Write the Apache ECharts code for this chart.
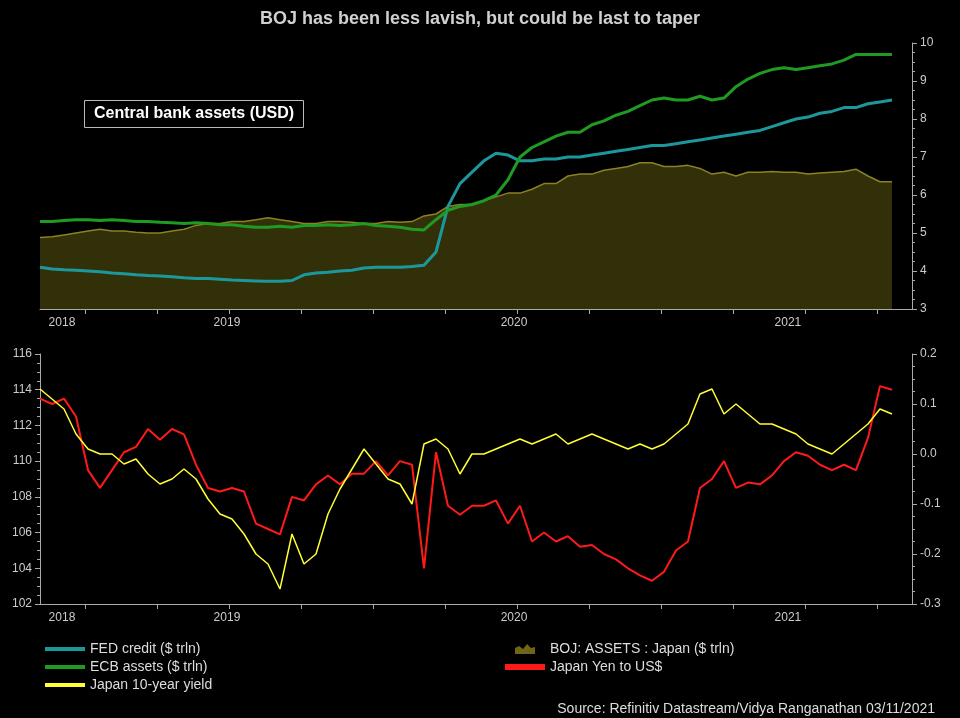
<!DOCTYPE html>
<html><head><meta charset="utf-8">
<script src="https://cdn.jsdelivr.net/npm/echarts@6/dist/echarts.min.js"></script>
<style>html,body{margin:0;background:#000}#c{width:960px;height:718px}</style></head>
<body><div id="c"></div>
<script>
const fedCredit=[4.1,4.05,4.03,4.02,4.0,3.98,3.95,3.93,3.9,3.88,3.87,3.85,3.82,3.8,3.8,3.78,3.76,3.75,3.74,3.73,3.73,3.75,3.9,3.95,3.97,4.0,4.02,4.08,4.1,4.1,4.1,4.12,4.15,4.5,5.7,6.3,6.6,6.9,7.1,7.05,6.9,6.9,6.95,6.95,7.0,7.0,7.05,7.1,7.15,7.2,7.25,7.3,7.3,7.35,7.4,7.45,7.5,7.55,7.6,7.65,7.7,7.8,7.9,8.0,8.05,8.15,8.2,8.3,8.3,8.4,8.45,8.5];
const ecbAssets=[5.3,5.3,5.33,5.35,5.35,5.33,5.35,5.33,5.3,5.3,5.28,5.27,5.25,5.27,5.25,5.22,5.22,5.18,5.15,5.15,5.18,5.15,5.2,5.2,5.22,5.2,5.22,5.25,5.2,5.18,5.15,5.1,5.08,5.35,5.6,5.7,5.75,5.85,6.0,6.4,7.0,7.25,7.4,7.55,7.65,7.65,7.85,7.95,8.1,8.2,8.35,8.5,8.55,8.5,8.5,8.6,8.5,8.55,8.85,9.05,9.2,9.3,9.35,9.3,9.35,9.4,9.45,9.55,9.7,9.7,9.7,9.7];
const bojAssets=[4.88,4.9,4.95,5.0,5.05,5.1,5.05,5.05,5.02,5.0,5.0,5.05,5.1,5.2,5.25,5.25,5.3,5.3,5.35,5.4,5.35,5.3,5.25,5.25,5.3,5.3,5.28,5.25,5.25,5.3,5.28,5.3,5.45,5.5,5.7,5.75,5.75,5.85,5.95,6.05,6.05,6.15,6.3,6.3,6.5,6.55,6.55,6.65,6.7,6.75,6.85,6.85,6.75,6.75,6.78,6.7,6.55,6.6,6.5,6.6,6.6,6.62,6.6,6.6,6.55,6.58,6.6,6.62,6.68,6.5,6.35,6.35];
const yenUsd=[113.5,113.2,113.5,112.5,109.5,108.5,109.5,110.5,110.8,111.8,111.2,111.8,111.5,109.8,108.5,108.3,108.5,108.3,106.5,106.2,105.9,108.0,107.8,108.7,109.2,108.7,109.3,109.3,110.0,109.2,110.0,109.8,104.0,110.5,107.5,107.0,107.5,107.5,107.8,106.5,107.5,105.5,106.0,105.5,105.8,105.2,105.3,104.8,104.5,104.0,103.6,103.3,103.8,105.0,105.5,108.5,109.0,110.0,108.5,108.8,108.7,109.2,110.0,110.5,110.3,109.8,109.5,109.8,109.5,111.3,114.2,114.0];
const jgb10y=[0.13,0.11,0.09,0.04,0.01,0.0,0.0,-0.02,-0.01,-0.04,-0.06,-0.05,-0.03,-0.05,-0.09,-0.12,-0.13,-0.16,-0.2,-0.22,-0.27,-0.16,-0.22,-0.2,-0.12,-0.07,-0.03,0.01,-0.02,-0.05,-0.06,-0.1,0.02,0.03,0.01,-0.04,0.0,0.0,0.01,0.02,0.03,0.02,0.03,0.04,0.02,0.03,0.04,0.03,0.02,0.01,0.02,0.01,0.02,0.04,0.06,0.12,0.13,0.08,0.1,0.08,0.06,0.06,0.05,0.04,0.02,0.01,0.0,0.02,0.04,0.06,0.09,0.08];
const tickPos=[3.75,9.75,15.75,21.75,27.75,33.75,39.75,45.75,51.75,57.75,63.75,69.75];
const yearLabels=['2018','2019','2020','2021'];
const yearPos=[1.83,15.58,39.5,62.33];

const pts=a=>a.map((v,i)=>[i,v]);
const grey='#aaaaaa';
function xAx(gi){return {type:'value',gridIndex:gi,min:0,max:72.67,
  axisLine:{show:true,onZero:false,lineStyle:{color:grey}},
  axisTick:{show:true,customValues:tickPos,length:5,lineStyle:{color:grey}},
  axisLabel:{show:true,customValues:yearPos,color:'#ccc',fontSize:12,fontFamily:'Arial',
    formatter:v=>{const k=yearPos.indexOf(v);return k>=0?yearLabels[k]:'';}},
  splitLine:{show:false}};}
function yAx(gi,pos,min,max,iv,fmt){return {type:'value',gridIndex:gi,position:pos,min:min,max:max,interval:iv,
  axisLine:{show:true,onZero:false,lineStyle:{color:grey}},axisTick:{show:true,lineStyle:{color:grey}},
  minorTick:{show:true,splitNumber:4,lineStyle:{color:grey}},
  axisLabel:{color:'#ccc',fontSize:12,formatter:fmt},splitLine:{show:false}};}
const c=echarts.init(document.getElementById('c'));
c.setOption({
  backgroundColor:'#000',animation:false,
  title:[{text:'BOJ has been less lavish, but could be last to taper',left:'center',top:5,
    textStyle:{color:'#d0d0d0',fontSize:18,fontWeight:'bold',fontFamily:'Arial'}},
    {text:'Central bank assets (USD)',left:84,top:100,borderColor:'#bbb',borderWidth:1,padding:[6,10],
    textStyle:{color:'#fff',fontSize:16,fontWeight:'bold',fontFamily:'Arial'}},
    {text:'Source: Refinitiv Datastream/Vidya Ranganathan 03/11/2021',right:20,top:697,
    textStyle:{color:'#ddd',fontSize:14,fontWeight:'normal',fontFamily:'Arial'}}],
  grid:[{left:40,right:48,top:43,bottom:409},{left:40,right:48,top:354,bottom:114}],
  xAxis:[xAx(0),xAx(1)],
  yAxis:[yAx(0,'right',3,10,1,'{value}'),yAx(1,'left',102,116,2,'{value}'),
    yAx(1,'right',-0.3,0.2,0.1,v=>v.toFixed(1))],
  legend:[{left:40,top:637,orient:'vertical',itemGap:4,itemWidth:40,itemHeight:4,
     textStyle:{color:'#ddd',fontSize:14,fontFamily:'Arial'},
     data:[{name:'FED credit ($ trln)',icon:'rect'},{name:'ECB assets ($ trln)',icon:'rect'},{name:'Japan 10-year yield',icon:'rect'}]},
    {left:500,top:637,orient:'vertical',itemGap:4,itemWidth:40,itemHeight:10,
     textStyle:{color:'#ddd',fontSize:14,fontFamily:'Arial'},
     data:[{name:'BOJ: ASSETS : Japan ($ trln)',icon:'path://M0,10 L0,4 L4,2 L8,5 L12,0 L16,4 L20,3 L20,10 Z'},{name:'Japan Yen to US$',icon:'path://M0,3 L20,3 L20,6 L0,6 Z'}]}],
  series:[
    {name:'BOJ: ASSETS : Japan ($ trln)',type:'line',xAxisIndex:0,yAxisIndex:0,data:pts(bojAssets),symbol:'none',
     lineStyle:{color:'#8c8124',width:1.5},itemStyle:{color:'#6e6518'},areaStyle:{color:'#323008',opacity:1,origin:'start'}},
    {name:'FED credit ($ trln)',type:'line',xAxisIndex:0,yAxisIndex:0,data:pts(fedCredit),symbol:'none',
     lineStyle:{color:'#1c989c',width:3},itemStyle:{color:'#1c989c'}},
    {name:'ECB assets ($ trln)',type:'line',xAxisIndex:0,yAxisIndex:0,data:pts(ecbAssets),symbol:'none',
     lineStyle:{color:'#1f9a22',width:3},itemStyle:{color:'#1f9a22'}},
    {name:'Japan Yen to US$',type:'line',xAxisIndex:1,yAxisIndex:1,data:pts(yenUsd),symbol:'none',
     lineStyle:{color:'#ff1a1a',width:2},itemStyle:{color:'#ff1a1a'}},
    {name:'Japan 10-year yield',type:'line',xAxisIndex:1,yAxisIndex:2,data:pts(jgb10y),symbol:'none',
     lineStyle:{color:'#ffff33',width:1.5},itemStyle:{color:'#ffff33'}}]
});
</script></body></html>
